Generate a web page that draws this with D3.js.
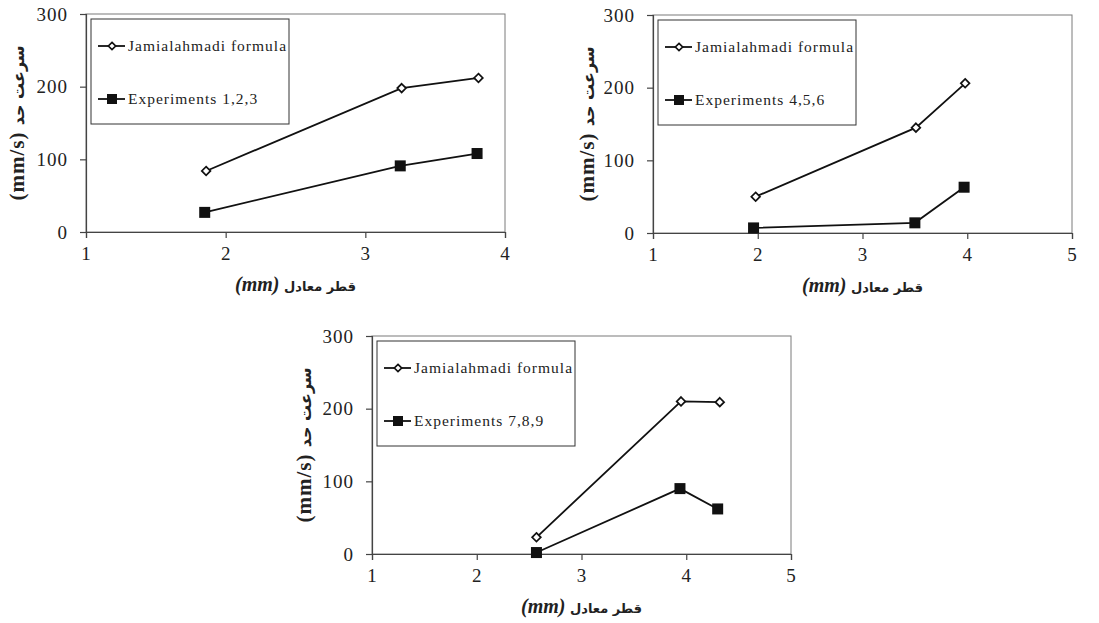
<!DOCTYPE html>
<html>
<head>
<meta charset="utf-8">
<script src="https://cdn.jsdelivr.net/npm/d3@7"></script>
<style>
  body { margin: 0; background: #fff; }
  svg { display: block; }
</style>
</head>
<body>
<div id="chart"></div>
<script>
// values
var yTicks = [0, 100, 200, 300];
var xTicksA = [1, 2, 3, 4];
var xTicksB = [1, 2, 3, 4, 5];

var formulaName = "Jamialahmadi formula";
var expNames = ["Experiments 1,2,3", "Experiments 4,5,6", "Experiments 7,8,9"];

var formula1X = [1.86, 3.26, 3.81];
var formula1Y = [84, 198, 212];
var exp1X = [1.85, 3.25, 3.80];
var exp1Y = [27, 91, 108];

var formula2X = [1.98, 3.51, 3.98];
var formula2Y = [50, 145, 206];
var exp2X = [1.96, 3.50, 3.97];
var exp2Y = [7, 14, 63];

var formula3X = [2.57, 3.95, 4.32];
var formula3Y = [23, 210, 209];
var exp3X = [2.57, 3.94, 4.30];
var exp3Y = [2, 90, 62];

var yTitle = "(mm/s) ";
var yTitleFa = "سرعت حد";
var xTitle = "(mm)";
var xTitleFa = " قطر معادل";

var svg = d3.select("#chart").append("svg")
  .attr("width", 1099)
  .attr("height", 623);

var zip = function(xs, ys) { return xs.map(function(x, i) { return [x, ys[i]]; }); };

var drawChart = function(opt) {
  var w = 419, h = 218;
  var g = svg.append("g").attr("transform", "translate(" + opt.left + "," + opt.top + ")");

  var x = d3.scaleLinear().domain([opt.xTicks[0], opt.xTicks[opt.xTicks.length - 1]]).range([0, w]);
  var y = d3.scaleLinear().domain([0, 300]).range([h, 0]);

  // frame
  g.append("rect").attr("width", w).attr("height", h)
    .attr("fill", "none").attr("stroke", "#7a7a7a").attr("stroke-width", 1);

  var yAxis = g.append("g").call(d3.axisLeft(y).tickValues(yTicks).tickSize(6).tickPadding(12));
  var xAxis = g.append("g").attr("transform", "translate(0," + h + ")")
    .call(d3.axisBottom(x).tickValues(opt.xTicks).tickSize(6).tickPadding(9).tickFormat(d3.format("d")));

  [xAxis, yAxis].forEach(function(a) {
    a.select(".domain").attr("stroke", "#444").attr("stroke-width", 1.2);
    a.selectAll(".tick line").attr("stroke", "#444").attr("stroke-width", 1.2);
    a.selectAll(".tick text")
      .attr("fill", "#222")
      .style("font-family", "'Liberation Serif', serif")
      .style("font-size", "19px")
      .style("letter-spacing", "1px");
  });

  var line = d3.line().x(function(d) { return x(d[0]); }).y(function(d) { return y(d[1]); });
  var fData = zip(opt.fx, opt.fy);
  var eData = zip(opt.ex, opt.ey);

  g.append("path").datum(fData).attr("d", line)
    .attr("fill", "none").attr("stroke", "#111").attr("stroke-width", 1.8);
  g.append("path").datum(eData).attr("d", line)
    .attr("fill", "none").attr("stroke", "#111").attr("stroke-width", 1.8);

  var diamond = d3.symbol().type(d3.symbolDiamond2).size(48);
  g.selectAll(".fpt").data(fData).enter().append("path")
    .attr("class", "fpt")
    .attr("transform", function(d) { return "translate(" + x(d[0]) + "," + y(d[1]) + ")"; })
    .attr("d", diamond)
    .attr("fill", "#fff").attr("stroke", "#111").attr("stroke-width", 1.7);

  g.selectAll(".ept").data(eData).enter().append("rect")
    .attr("class", "ept")
    .attr("x", function(d) { return x(d[0]) - 5.5; })
    .attr("y", function(d) { return y(d[1]) - 5.5; })
    .attr("width", 11).attr("height", 11)
    .attr("fill", "#111");

  // legend
  var lg = g.append("g").attr("transform", "translate(5,5)");
  lg.append("rect").attr("width", 198).attr("height", 105)
    .attr("fill", "#fff").attr("stroke", "#333").attr("stroke-width", 1);
  var rows = [{ y: 27, label: formulaName, kind: "d" }, { y: 80, label: opt.expName, kind: "s" }];
  rows.forEach(function(r) {
    lg.append("line").attr("x1", 7).attr("x2", 34).attr("y1", r.y).attr("y2", r.y)
      .attr("stroke", "#111").attr("stroke-width", 1.8);
    if (r.kind === "d") {
      lg.append("path").attr("transform", "translate(21," + r.y + ")")
        .attr("d", d3.symbol().type(d3.symbolDiamond2).size(34))
        .attr("fill", "#fff").attr("stroke", "#111").attr("stroke-width", 1.7);
    } else {
      lg.append("rect").attr("x", 16).attr("y", r.y - 5).attr("width", 10).attr("height", 10).attr("fill", "#111");
    }
    lg.append("text").attr("x", 37).attr("y", r.y).attr("dy", "0.35em")
      .attr("fill", "#222")
      .style("font-family", "'Liberation Serif', serif")
      .style("font-size", "15.5px")
      .style("letter-spacing", "1px")
      .text(r.label);
  });

  // axis titles
  var yt = g.append("text")
    .attr("transform", "translate(" + opt.yTitleX + "," + (h / 2) + ") rotate(-90)")
    .attr("text-anchor", "middle").attr("dy", "0.35em")
    .attr("fill", "#222")
    .style("font-weight", "bold")
    .style("direction", "ltr").style("unicode-bidi", "embed");
  yt.append("tspan").style("font-family", "'Liberation Serif', serif").style("font-size", "21px").style("letter-spacing", "1px").text(yTitle);
  yt.append("tspan").style("font-family", "'DejaVu Sans', sans-serif").style("font-size", "16px").text(yTitleFa);

  var xt = g.append("text")
    .attr("x", w / 2).attr("y", h + 53).attr("dy", "0.35em")
    .attr("text-anchor", "middle")
    .attr("fill", "#222")
    .style("font-weight", "bold")
    .style("direction", "ltr").style("unicode-bidi", "embed");
  xt.append("tspan").style("font-family", "'Liberation Serif', serif").style("font-style", "italic").style("font-size", "20px").text(xTitle);
  xt.append("tspan").style("font-family", "'DejaVu Sans', sans-serif").style("font-size", "13px").text(xTitleFa);
};

drawChart({ left: 86, top: 14, xTicks: xTicksA, fx: formula1X, fy: formula1Y, ex: exp1X, ey: exp1Y, expName: expNames[0], yTitleX: -68 });
drawChart({ left: 653, top: 15, xTicks: xTicksB, fx: formula2X, fy: formula2Y, ex: exp2X, ey: exp2Y, expName: expNames[1], yTitleX: -65 });
drawChart({ left: 372, top: 336, xTicks: xTicksB, fx: formula3X, fy: formula3Y, ex: exp3X, ey: exp3Y, expName: expNames[2], yTitleX: -67 });
</script>
</body>
</html>
